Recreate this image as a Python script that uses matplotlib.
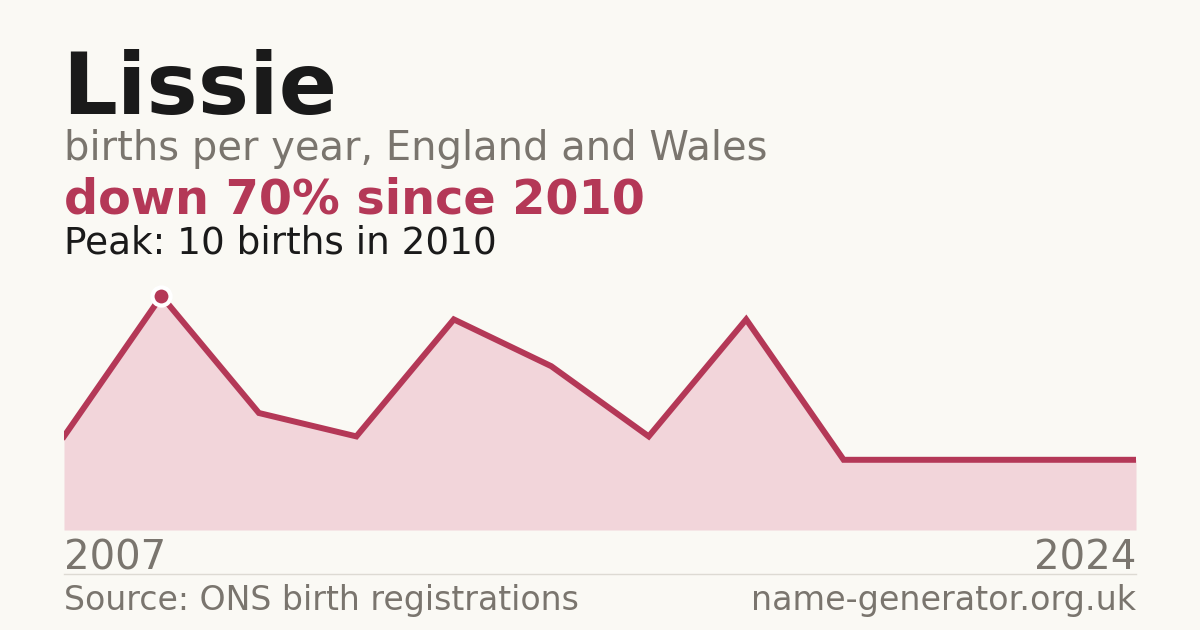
import numpy as np
import matplotlib
matplotlib.use("Agg")
import matplotlib.pyplot as plt
from matplotlib.lines import Line2D

plt.rcParams['font.family'] = ['DejaVu Sans']

# births per year (only years with registrations shown, evenly spaced)
years = [2007, 2010, 2011, 2012, 2013, 2014, 2015, 2016, 2017, 2018, 2023, 2024]
births = [4, 10, 5, 4, 9, 7, 4, 9, 3, 3, 3, 3]

name = "Lissie"
subtitle = "births per year, England and Wales"
headline = "down 70% since 2010"
peak_text = "Peak: 10 births in 2010"
source = "Source: ONS birth registrations"
site = "name-generator.org.uk"

bg = "#faf9f4"
red = "#b43857"
fill = "#f2d5da"
grey = "#7a756e"
dark = "#1a1a1a"

W, H = 1200, 630
fig = plt.figure(figsize=(W / 100, H / 100), dpi=100, facecolor=bg)

def px(x, y):
    return x / W, 1 - y / H

ax = fig.add_axes([64 / W, 1 - 530 / H, 1072 / W, 260 / H])
ax.set_facecolor(bg)
x = np.arange(len(births))
ax.fill_between(x, births, 0, color=fill, lw=0)
ax.plot(x, births, color=red, lw=4.3, solid_joinstyle="miter")
pk = int(np.argmax(births))
ax.plot(x[pk], births[pk], "o", ms=13, color=red, mec="white", mew=3, zorder=5)
ax.set_xlim(0, len(births) - 1)
ax.set_ylim(0, 260 / 23.4)
ax.axis("off")

fig.text(*px(62, 114), name, fontsize=62, fontweight="bold", color=dark, va="baseline")
fig.text(*px(64, 160), subtitle, fontsize=28.8, color=grey, va="baseline")
fig.text(*px(64, 214), headline, fontsize=34.4, fontweight="bold", color=red, va="baseline")
fig.text(*px(64, 253), peak_text, fontsize=26.9, color=dark, va="baseline")

fig.text(*px(64, 569), str(years[0]), fontsize=29, color=grey, va="baseline")
fig.text(*px(1136, 569), str(years[-1]), fontsize=29, color=grey, va="baseline", ha="right")

fig.add_artist(Line2D([64 / W, 1136 / W], [1 - 574 / H] * 2, color="#dddad3", lw=1))

fig.text(*px(64, 610), source, fontsize=23.9, color=grey, va="baseline")
fig.text(*px(1136, 610), site, fontsize=24, color=grey, va="baseline", ha="right")

fig.savefig("out.png", dpi=100, facecolor=bg)
